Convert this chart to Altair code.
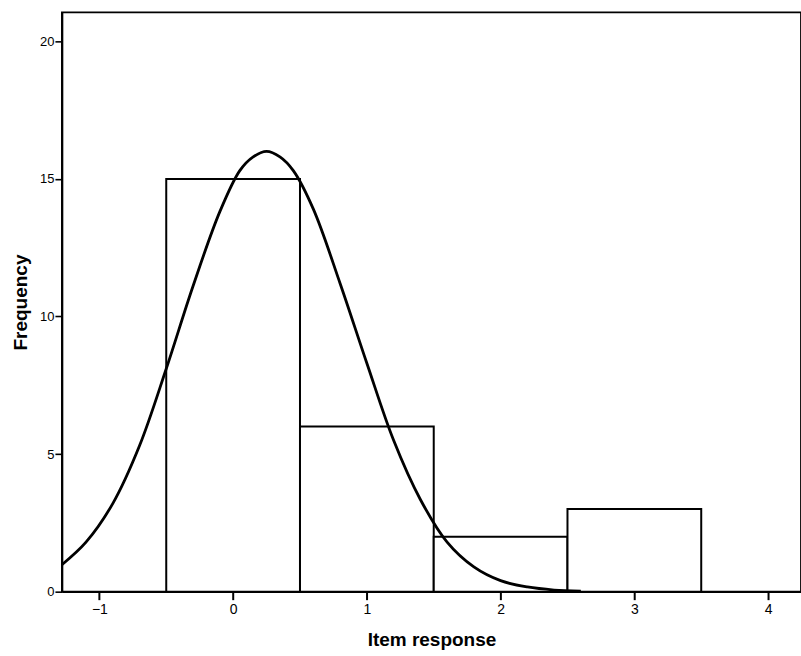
import altair as alt
import pandas as pd

# Histogram bins (item response categories) and their frequencies
bin_start = [-0.5, 0.5, 1.5, 2.5]
bin_end = [0.5, 1.5, 2.5, 3.5]
frequency = [15, 6, 2, 3]

# Fitted normal curve
curve_x = [-1.28, -1.1, -0.9, -0.7, -0.5, -0.3, -0.1, 0.05, 0.15, 0.25, 0.35, 0.45, 0.6,
           0.8, 1.0, 1.2, 1.4, 1.6, 1.8, 2.0, 2.2, 2.4, 2.6]
curve_y = [0.98, 1.8, 3.2, 5.3, 8.1, 11.1, 13.8, 15.3, 15.8, 16.0, 15.8, 15.3, 13.9,
           11.2, 8.3, 5.5, 3.35, 1.8, 0.9, 0.4, 0.17, 0.06, 0.02]

x_ticks = [-1, 0, 1, 2, 3, 4]
y_ticks = [0, 5, 10, 15, 20]

bars = pd.DataFrame({"start": bin_start, "end": bin_end, "freq": frequency})
curve = pd.DataFrame({"x": curve_x, "y": curve_y})

FONT = "Liberation Sans"

xscale = alt.Scale(domain=[-1.28, 4.246], nice=False, zero=False)
yscale = alt.Scale(domain=[0, 21.05], nice=False, zero=False)

xaxis = alt.Axis(title="Item response", values=x_ticks, format="d", grid=False,
                 domainColor="black", domainWidth=1.8, tickColor="black", tickWidth=2,
                 tickSize=8, labelPadding=3, labelFont=FONT, labelFontSize=14,
                 labelColor="black", titleFont=FONT, titleFontSize=19,
                 titleFontWeight="bold", titleColor="black", titlePadding=14)
yaxis = alt.Axis(title="Frequency", values=y_ticks, format="d", grid=False,
                 domainColor="black", domainWidth=1.8, tickColor="black", tickWidth=1.6,
                 tickSize=7, labelPadding=1, labelFont=FONT, labelFontSize=13,
                 labelColor="black", titleFont=FONT, titleFontSize=19,
                 titleFontWeight="bold", titleColor="black", titlePadding=9)

rects = alt.Chart(bars).mark_rect(fill="white", stroke="black", strokeWidth=2).encode(
    x=alt.X("start:Q", scale=xscale, axis=xaxis),
    x2="end:Q",
    y=alt.Y("freq:Q", scale=yscale, axis=yaxis),
    y2=alt.datum(0),
)

line = alt.Chart(curve).mark_line(color="black", strokeWidth=2.8,
                                  interpolate="catmull-rom", clip=True).encode(
    x=alt.X("x:Q", scale=xscale),
    y=alt.Y("y:Q", scale=yscale),
)

chart = alt.layer(rects, line).properties(
    width=740, height=580,
    autosize=alt.AutoSizeParams(type="none"),
    padding={"left": 62, "top": 12, "right": 0, "bottom": 64},
    background="white",
).configure_view(stroke="black", strokeWidth=1.8)

chart.save("out.html", embed_options={"renderer": "svg", "actions": False})
